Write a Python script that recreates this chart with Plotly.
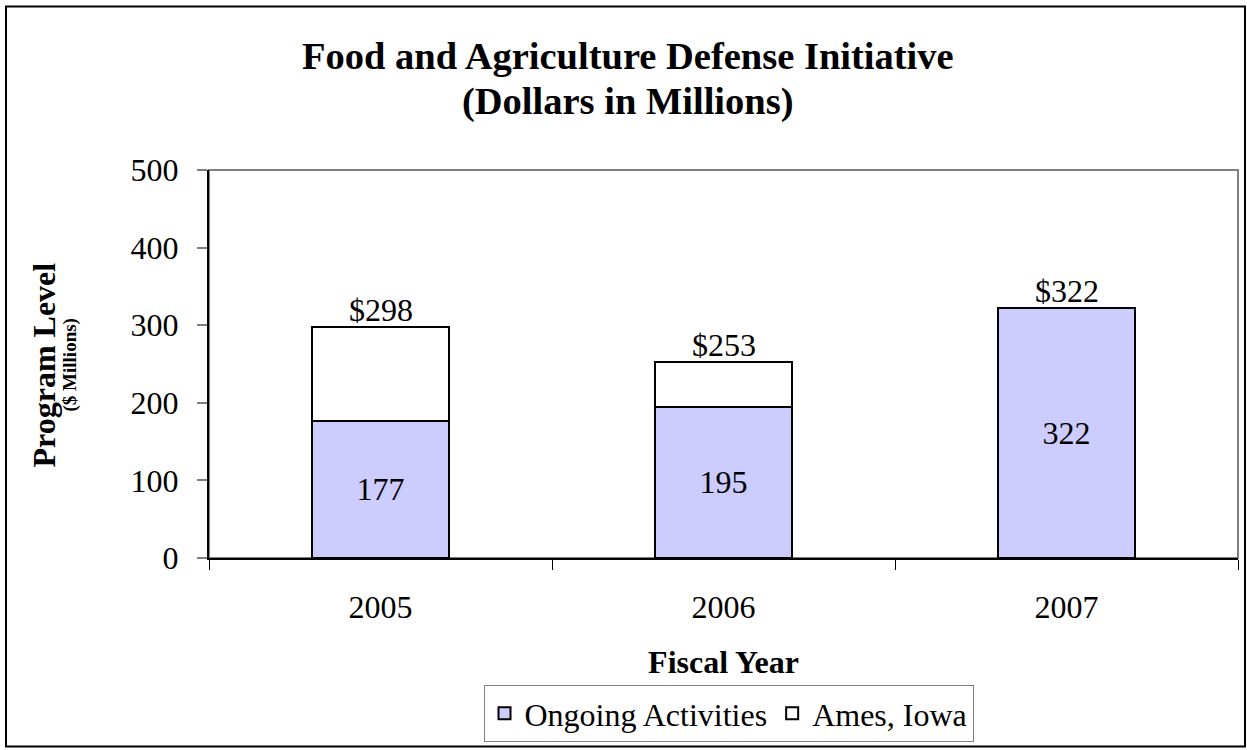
import plotly.graph_objects as go

years = ["2005", "2006", "2007"]
ongoing = [177, 195, 322]
ames = [121, 58, 0]
totals = [298, 253, 322]
total_labels = ["$298", "$253", "$322"]
yticks = [0, 100, 200, 300, 400, 500]

W, H = 1247, 750
L, R, T, B = 209, 9, 170, 191
PW, PH = W - L - R, H - T - B

def px_x(px):
    return (px - L) / PW

def px_y(py):
    return (H - B - py) / PH

FONT = "Liberation Serif, Times New Roman, serif"
LAV = "#CCCCFF"
FS = 32

fig = go.Figure()
fig.add_trace(go.Bar(
    x=years, y=ongoing, name="Ongoing Activities",
    marker=dict(color=LAV, line=dict(color="black", width=2)),
    width=0.4, text=[str(v) for v in ongoing], textposition="inside",
    insidetextanchor="middle", textfont=dict(family=FONT, size=FS, color="black"),
    constraintext="none", hoverinfo="skip",
))
fig.add_trace(go.Bar(
    x=years, y=ames, name="Ames, Iowa",
    marker=dict(color="white", line=dict(color="black", width=2)),
    width=0.4, hoverinfo="skip",
))

total_annots = [
    dict(x=i, y=tot, xref="x", yref="y", text=lab, showarrow=False,
         xanchor="center", yanchor="bottom", yshift=-3,
         font=dict(family=FONT, size=FS, color="black"))
    for i, (tot, lab) in enumerate(zip(totals, total_labels))
]

fig.update_layout(
    width=W, height=H,
    margin=dict(l=L, r=R, t=T, b=B),
    paper_bgcolor="white", plot_bgcolor="white",
    barmode="stack",
    font=dict(family=FONT, size=FS, color="black"),
    xaxis=dict(
        type="category", categoryorder="array", categoryarray=years,
        range=[-0.5, len(years) - 0.5],
        showline=True, linecolor="black", linewidth=2,
        ticks="outside", tickson="boundaries", ticklen=10, tickwidth=1,
        tickcolor="black", showgrid=False, ticklabelstandoff=20,
        tickfont=dict(family=FONT, size=FS),
        title=dict(text="<b>Fiscal Year</b>", standoff=26,
                   font=dict(family=FONT, size=FS)),
    ),
    yaxis=dict(
        range=[0, 500], tickvals=yticks, showline=True, linecolor="black",
        linewidth=2, ticks="outside", ticklen=10, tickwidth=2, tickcolor="#808080",
        showgrid=False, zeroline=False, ticklabelstandoff=12,
        tickfont=dict(family=FONT, size=FS),
    ),
    legend=dict(
        orientation="h", x=px_x(728.5), xanchor="center", y=px_y(742), yanchor="bottom",
        traceorder="normal", bordercolor="#808080", borderwidth=1,
        font=dict(family=FONT, size=FS), bgcolor="white",
    ),
    showlegend=True,
    annotations=total_annots + [
        dict(
            text="<b>Food and Agriculture Defense Initiative</b>", showarrow=False,
            xref="paper", yref="paper", x=px_x(628), y=px_y(56),
            xanchor="center", yanchor="middle",
            font=dict(family=FONT, size=38.5, color="black"),
        ),
        dict(
            text="<b>(Dollars in Millions)</b>", showarrow=False,
            xref="paper", yref="paper", x=px_x(628), y=px_y(101),
            xanchor="center", yanchor="middle",
            font=dict(family=FONT, size=38.5, color="black"),
        ),
        dict(
            text="<b>Program Level</b>", textangle=-90, showarrow=False,
            xref="paper", yref="paper", x=px_x(44), y=px_y(366),
            xanchor="center", yanchor="middle",
            font=dict(family=FONT, size=32, color="black"),
        ),
        dict(
            text="<b>($ Millions)</b>", textangle=-90, showarrow=False,
            xref="paper", yref="paper", x=px_x(70), y=px_y(366),
            xanchor="center", yanchor="middle",
            font=dict(family=FONT, size=19, color="black"),
        ),
    ],
    shapes=[
        dict(type="rect", xref="paper", yref="paper", x0=0, x1=1, y0=0, y1=1,
             line=dict(color="#808080", width=2), layer="below"),
        dict(type="rect", xref="paper", yref="paper",
             x0=px_x(6), x1=px_x(1245), y0=px_y(748), y1=px_y(6),
             line=dict(color="black", width=2), layer="below"),
    ],
)

fig.write_html("out.html")
